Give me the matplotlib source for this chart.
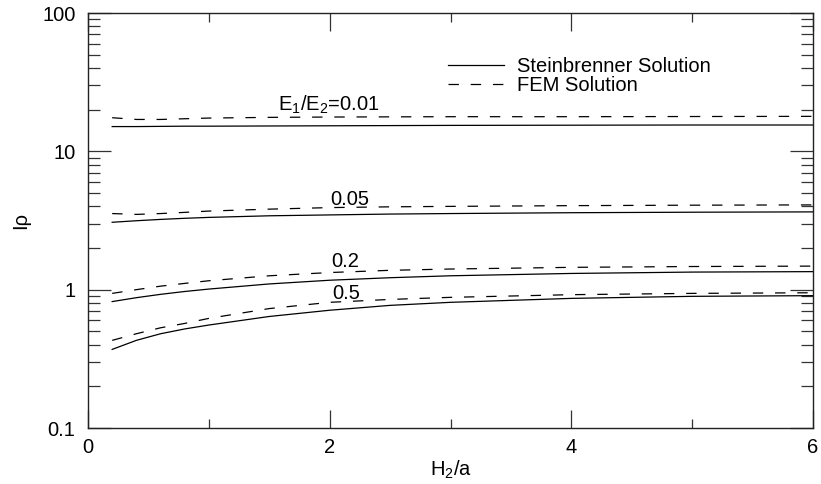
import matplotlib
matplotlib.use("Agg")
import matplotlib.pyplot as plt
from matplotlib.ticker import FixedLocator, NullFormatter, FuncFormatter, LogLocator

plt.rcParams['font.family'] = ['Liberation Sans', 'DejaVu Sans']
plt.rcParams['mathtext.fontset'] = 'custom'
plt.rcParams['mathtext.rm'] = 'Liberation Sans'
plt.rcParams['mathtext.it'] = 'Liberation Sans:italic'
plt.rcParams['lines.scale_dashes'] = False

# H2/a values where the curves are sampled
h_ratio = [0.2, 0.4, 0.6, 0.8, 1.0, 1.5, 2.0, 2.5, 3.0, 4.0, 5.0, 6.0]

# Steinbrenner solution, one list per modulus ratio E1/E2
stein_001 = [15.1, 15.1, 15.15, 15.2, 15.2, 15.25, 15.3, 15.35, 15.4, 15.45, 15.5, 15.5]
stein_005 = [3.07, 3.15, 3.22, 3.28, 3.33, 3.42, 3.47, 3.52, 3.55, 3.60, 3.63, 3.65]
stein_02 = [0.82, 0.875, 0.925, 0.97, 1.01, 1.10, 1.17, 1.22, 1.26, 1.31, 1.34, 1.35]
stein_05 = [0.37, 0.43, 0.48, 0.52, 0.555, 0.64, 0.71, 0.77, 0.81, 0.865, 0.895, 0.905]

# FEM solution
fem_001 = [17.5, 17.0, 17.0, 17.2, 17.4, 17.6, 17.7, 17.75, 17.8, 17.8, 17.85, 17.9]
fem_005 = [3.55, 3.50, 3.55, 3.62, 3.70, 3.82, 3.92, 3.97, 4.00, 4.05, 4.08, 4.10]
fem_02 = [0.94, 1.00, 1.06, 1.11, 1.16, 1.26, 1.33, 1.38, 1.41, 1.45, 1.47, 1.48]
fem_05 = [0.43, 0.48, 0.53, 0.57, 0.62, 0.73, 0.81, 0.85, 0.88, 0.92, 0.94, 0.95]

curve_labels = ['E$_1$/E$_2$=0.01', '0.05', '0.2', '0.5']
label_x = [1.99, 2.17, 2.13, 2.14]
label_y = [21.6, 4.45, 1.585, 0.94]

fs = 14.5

fig = plt.figure(figsize=(8.21, 4.84), dpi=100)
ax = fig.add_axes([88/821, 56/484, 725/821, 415/484])

dash = (7.5, 8.5)
lw = 0.9
ax.plot(h_ratio, stein_001, color='black', lw=lw, label='Steinbrenner Solution')
ax.plot(h_ratio, fem_001, color='black', lw=lw, dashes=dash, label='FEM Solution')
for s, f in [(stein_005, fem_005), (stein_02, fem_02), (stein_05, fem_05)]:
    ax.plot(h_ratio, s, color='black', lw=lw)
    ax.plot(h_ratio, f, color='black', lw=lw, dashes=dash)

for txt, tx, ty in zip(curve_labels, label_x, label_y):
    ax.text(tx, ty, txt, fontsize=fs, ha='center', va='center')

ax.set_yscale('log')
ax.set_xlim(0, 6)
ax.set_ylim(0.1, 100)

ax.xaxis.set_major_locator(FixedLocator([0, 2, 4, 6]))
ax.xaxis.set_minor_locator(FixedLocator([1, 3, 5]))
ax.yaxis.set_major_locator(LogLocator(base=10))
ax.yaxis.set_minor_locator(LogLocator(base=10, subs=range(2, 10)))
ax.yaxis.set_major_formatter(FuncFormatter(lambda v, p: '%g' % v))
ax.yaxis.set_minor_formatter(NullFormatter())

for sp in ax.spines.values():
    sp.set_linewidth(1.0)
    sp.set_color('#222222')

ax.tick_params(axis='x', which='major', direction='in', length=13, width=0.9,
               top=True, labelsize=fs, pad=7, color='#333333')
ax.tick_params(axis='x', which='minor', direction='in', length=6.5, width=0.9,
               top=True, color='#333333')
ax.tick_params(axis='y', which='major', direction='in', length=16.5, width=0.9,
               right=True, labelsize=fs, pad=9, color='#333333')
ax.tick_params(axis='y', which='minor', direction='in', length=8.5, width=0.9,
               right=True, color='#333333')

ax.set_xlabel('H$_2$/a', fontsize=fs, labelpad=1.5)
ax.set_ylabel('Iρ', fontsize=fs, labelpad=9)

ax.legend(loc='upper left', bbox_to_anchor=(0.497, 0.894), frameon=False,
          fontsize=fs, handlelength=2.75, handletextpad=0.65, labelspacing=0.0,
          borderpad=0, borderaxespad=0)

fig.savefig('out.png', dpi=100)
